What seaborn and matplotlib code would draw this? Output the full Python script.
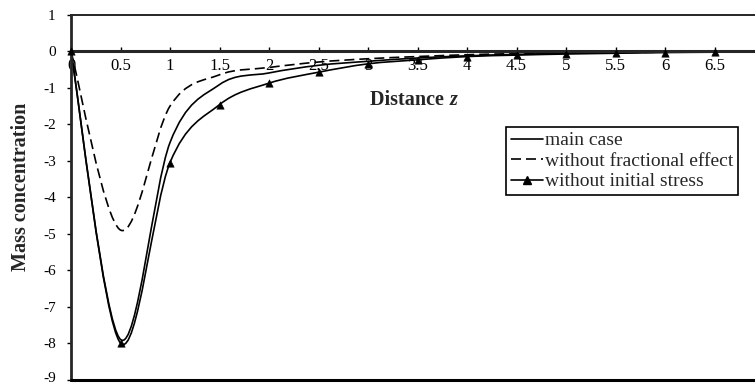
import numpy as np
import matplotlib
matplotlib.use("Agg")
import matplotlib.pyplot as plt
import matplotlib.transforms as mtransforms
import seaborn as sns
from matplotlib.path import Path
from matplotlib.patches import PathPatch
from matplotlib.lines import Line2D
from matplotlib.ticker import FuncFormatter

# values (Excel style smoothed lines)
z = [0, 0.5, 1, 1.5, 2, 2.5, 3, 3.5, 4, 4.5, 5, 5.5, 6, 6.5]
main_case = [0, -7.9, -2.5, -0.91, -0.59, -0.38, -0.27, -0.18, -0.12, -0.08, -0.05, -0.03, -0.02, -0.01]
no_fractional = [0, -4.9, -1.5, -0.64, -0.44, -0.29, -0.20, -0.14, -0.09, -0.06, -0.04, -0.03, -0.02, -0.01]
no_initial_stress = [0, -8.0, -3.05, -1.46, -0.87, -0.57, -0.34, -0.23, -0.14, -0.10, -0.07, -0.05, -0.03, -0.02]

labels = ["main case", "without fractional effect", "without initial stress"]
x_ticks = [0, 0.5, 1, 1.5, 2, 2.5, 3, 3.5, 4, 4.5, 5, 5.5, 6, 6.5]
y_ticks = [1, 0, -1, -2, -3, -4, -5, -6, -7, -8, -9]


def smooth_path(x, y):
    # bezier through the points, like Excel's "smoothed line"
    pts = np.column_stack([x, y]).astype(float)
    n = len(pts)
    verts = [pts[0]]
    codes = [Path.MOVETO]
    for i in range(n - 1):
        p0 = pts[max(i - 1, 0)]
        p1 = pts[i]
        p2 = pts[i + 1]
        p3 = pts[min(i + 2, n - 1)]
        verts += [p1 + (p2 - p0) / 6, p2 - (p3 - p1) / 6, p2]
        codes += [Path.CURVE4] * 3
    return Path(verts, codes)


sns.set_style("ticks")
plt.rcParams["font.family"] = ["Liberation Serif", "DejaVu Serif"]

fig = plt.figure(figsize=(7.55, 3.87), dpi=100)
ax = fig.add_axes([71 / 755, 1 - 379.5 / 387, 684 / 755, 364.5 / 387])

dash = (0, (6, 3))
lw = 1.2
ax.add_patch(PathPatch(smooth_path(z, main_case), fc="none", ec="black", lw=lw))
ax.add_patch(PathPatch(smooth_path(z, no_fractional), fc="none", ec="black", lw=lw, ls=dash))
ax.add_patch(PathPatch(smooth_path(z, no_initial_stress), fc="none", ec="black", lw=lw))
sns.scatterplot(x=z, y=no_initial_stress, marker="^", color="black", edgecolor="black",
                s=28, ax=ax, zorder=4, legend=False, clip_on=False)

ax.set_xlim(0, 684 / 99)
ax.set_ylim(-9, 1)
ax.set_xticks(x_ticks)
ax.set_yticks(y_ticks)
ax.xaxis.set_major_formatter(FuncFormatter(lambda v, p: "%g" % v))
ax.yaxis.set_major_formatter(FuncFormatter(lambda v, p: "%g" % v))

ax.spines["right"].set_visible(False)
ax.spines["bottom"].set_position(("data", 0))
ax.spines["bottom"].set_linewidth(2.2)
ax.spines["left"].set_linewidth(2)
ax.spines["top"].set_linewidth(1.4)
ax.axhline(-9, color="black", lw=2.2, clip_on=False, zorder=5)

ax.tick_params(axis="x", direction="in", length=3, width=1, pad=5, labelsize=12, colors="black")
ax.tick_params(axis="y", direction="out", length=3, width=1, pad=8, labelsize=11, colors="black")

# nudge the lowest y label up a little so it stays inside the picture
lowest = ax.yaxis.get_major_ticks()[-1].label1
lowest.set_transform(lowest.get_transform() +
                     mtransforms.ScaledTranslation(0, 2 / 72, fig.dpi_scale_trans))

ax.set_ylabel("Mass concentration", fontsize=14.5, fontweight="bold")
ax.yaxis.set_label_coords(-0.058, 0.528)
ax.text(0.553, 0.767, "Distance ", transform=ax.transAxes, ha="right", va="center",
        fontsize=14.5, fontweight="bold")
ax.text(0.553, 0.767, "z", transform=ax.transAxes, ha="left", va="center",
        fontsize=14.5, fontweight="bold", fontstyle="italic")

handles = [
    Line2D([], [], color="black", lw=lw),
    Line2D([], [], color="black", lw=lw, ls=dash),
    Line2D([], [], color="black", lw=lw, marker="^", markersize=5.5),
]
leg = ax.legend(handles, labels, loc="upper left", bbox_to_anchor=(0.636, 0.693),
                borderaxespad=0, fontsize=14, frameon=True, fancybox=False,
                handlelength=1.65, handletextpad=0.1, labelspacing=0.15,
                borderpad=0.25, framealpha=1)
leg.get_frame().set_edgecolor("black")
leg.get_frame().set_linewidth(1.2)

fig.savefig("out.png", dpi=100)
